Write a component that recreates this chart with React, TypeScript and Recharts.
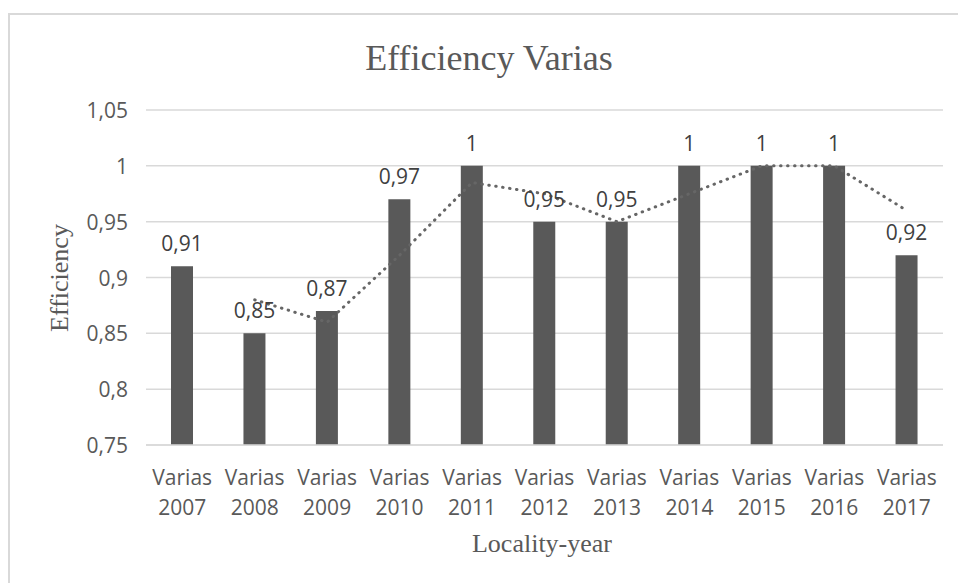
import {
  ComposedChart,
  Bar,
  Line,
  XAxis,
  YAxis,
  CartesianGrid,
  LabelList,
} from "recharts";

const years = ["2007", "2008", "2009", "2010", "2011", "2012", "2013", "2014", "2015", "2016", "2017"];
const efficiency = [0.91, 0.85, 0.87, 0.97, 1, 0.95, 0.95, 1, 1, 1, 0.92];
// dotted trend line (2-period moving average as drawn in the picture)
const trend = [null, 0.88, 0.86, 0.92, 0.985, 0.975, 0.95, 0.975, 1, 1, 0.96];
const yTicks = [0.75, 0.8, 0.85, 0.9, 0.95, 1, 1.05];

const data = years.map((y, i) => ({
  name: "Varias " + y,
  year: y,
  value: efficiency[i],
  trend: trend[i],
}));

const grey = "#595959";
const sans = "'Open Sans', sans-serif";
const serif = "'Liberation Serif', 'Times New Roman', serif";

const fmt = (v: number) => String(v).replace(".", ",");

function XTick({ x, y, payload }: any) {
  const d = data.find((r) => r.name === payload.value);
  return (
    <text x={x} y={y} textAnchor="middle" fill={grey} fontSize={21} fontFamily={sans}>
      <tspan x={x} y={y + 38}>Varias</tspan>
      <tspan x={x} y={y + 68}>{d ? d.year : ""}</tspan>
    </text>
  );
}

function YTick({ x, y, payload }: any) {
  return (
    <text x={x - 16} y={y + 8} textAnchor="end" fill={grey} fontSize={21} fontFamily={sans}>
      {fmt(payload.value)}
    </text>
  );
}

export default function App() {
  return (
    <div style={{ position: "absolute", left: 0, top: 0, width: 958, height: 583, background: "#fff", overflow: "hidden" }}>
      <div
        style={{
          position: "absolute",
          left: 8,
          top: 13,
          width: 970,
          height: 600,
          borderTop: "2px solid #d9d9d9",
          borderLeft: "2px solid #d9d9d9",
        }}
      />
      <div
        style={{
          position: "absolute",
          left: 289,
          width: 400,
          top: 36,
          textAlign: "center",
          fontFamily: serif,
          fontSize: 36,
          color: grey,
          lineHeight: "44px",
        }}
      >
        Efficiency Varias
      </div>
      <div
        style={{
          position: "absolute",
          left: 60 - 100,
          top: 278 - 16,
          width: 200,
          textAlign: "center",
          fontFamily: serif,
          fontSize: 26,
          color: grey,
          lineHeight: "32px",
          transform: "rotate(-90deg)",
        }}
      >
        Efficiency
      </div>
      <div
        style={{
          position: "absolute",
          left: 542 - 100,
          top: 544 - 16,
          width: 200,
          textAlign: "center",
          fontFamily: serif,
          fontSize: 26,
          color: grey,
          lineHeight: "32px",
        }}
      >
        Locality-year
      </div>
      <div style={{ position: "absolute", left: 0, top: 0 }}>
        <ComposedChart
          width={958}
          height={583}
          data={data}
          margin={{ top: 110, right: 15, bottom: 0, left: 0 }}
        >
          <CartesianGrid horizontal vertical={false} stroke="#d9d9d9" strokeWidth={1.5} />
          <XAxis
            dataKey="name"
            height={138}
            axisLine={{ stroke: "#d9d9d9", strokeWidth: 1.5 }}
            tickLine={false}
            tickSize={0}
            interval={0}
            tick={<XTick />}
          />
          <YAxis
            width={146}
            domain={[0.75, 1.05]}
            ticks={yTicks}
            axisLine={false}
            tickLine={false}
            tickSize={0}
            allowDataOverflow
            tick={<YTick />}
          />
          <Bar dataKey="value" fill={grey} barSize={22} isAnimationActive={false}>
            <LabelList
              dataKey="value"
              position="top"
              offset={15}
              formatter={(v: any) => fmt(v)}
              fill="#404040"
              fontSize={21}
              fontFamily={sans}
            />
          </Bar>
          <Line
            type="linear"
            dataKey="trend"
            stroke="#666666"
            strokeWidth={3}
            strokeDasharray="0.5 6.5"
            strokeLinecap="round"
            dot={false}
            activeDot={false}
            isAnimationActive={false}
          />
        </ComposedChart>
      </div>
    </div>
  );
}
